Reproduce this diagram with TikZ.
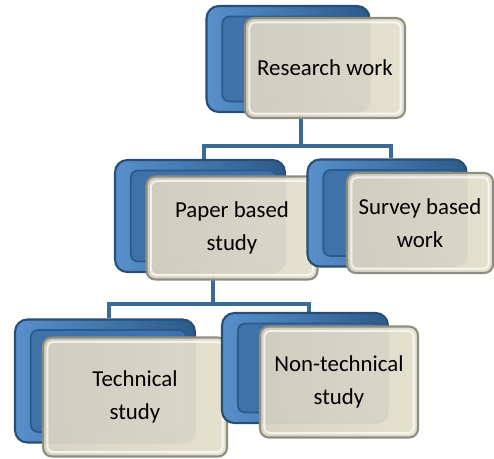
\documentclass[tikz,border=0pt]{standalone}
\usepackage{fontspec}
\setmainfont{Carlito}
\usetikzlibrary{backgrounds}

\definecolor{frameblue}{HTML}{284E75}
\definecolor{deepblue}{HTML}{2C5A8A}
\definecolor{lightblue}{HTML}{5790CC}
\definecolor{faceblue}{HTML}{3E72A9}
\definecolor{linkblue}{HTML}{3B6A99}
\definecolor{cardtan}{HTML}{D6D2C1}
\definecolor{cardlight}{HTML}{E4DFCC}
\definecolor{cardedge}{HTML}{8F8C80}

\tikzset{
	backbox/.style={rounded corners=7pt, draw=frameblue, line width=1.2pt,
		left color=lightblue, right color=deepblue,
		path picture={
			\draw [rounded corners=4pt, draw=deepblue, line width=1pt, fill=faceblue]
				([shift={(9pt,-6pt)}]path picture bounding box.north west) rectangle
				([shift={(-5pt,6pt)}]path picture bounding box.south east);
		}},
	card/.style={rounded corners=5pt, draw=cardedge, line width=1.2pt,
		left color=cardtan, right color=cardlight, fill opacity=0.95,
		text opacity=1, align=center, font=\fontsize{13}{19}\selectfont,
		path picture={
			\draw [rounded corners=3pt, white, opacity=0.7, line width=1.2pt]
				([shift={(2.5pt,-2.5pt)}]path picture bounding box.north west) rectangle
				([shift={(-2.5pt,2.5pt)}]path picture bounding box.south east);
		}},
	link/.style={linkblue, line width=2.4pt}
}

\begin{document}
\begin{tikzpicture}[x=0.02cm, y=-0.02cm]
	\useasboundingbox (0, 0) rectangle (494, 458);

	% first level
	\node [backbox, minimum width=3.26cm, minimum height=2.12cm] (rwb) at (288, 59) {};
	\node [card, minimum width=3.2cm, minimum height=2cm] (rw) at (325, 68) {Research work};

	% second level
	\node [backbox, minimum width=3.4cm, minimum height=2.24cm] (pbb) at (200, 216) {};
	\node [card, minimum width=3.42cm, minimum height=2.06cm] (pb) at (232, 228) {Paper based\\study};
	\node [backbox, minimum width=3.18cm, minimum height=2.14cm] (sbb) at (387, 213) {};
	\node [card, minimum width=2.92cm, minimum height=2cm] (sb) at (420, 223) {Survey based\\work};

	% third level
	\node [backbox, minimum width=3.6cm, minimum height=2.46cm] (tsb) at (105, 381) {};
	\node [card, minimum width=3.68cm, minimum height=2.38cm] (ts) at (135, 397) {Technical\\study};
	\node [backbox, minimum width=3.32cm, minimum height=2.2cm] (ntb) at (305, 368) {};
	\node [card, minimum width=3.16cm, minimum height=2.22cm] (nt) at (339, 382) {Non-technical\\study};

	% connectors behind the boxes
	\begin{scope}[on background layer]
		\foreach \kid in {pbb, sbb}
			\draw [link] ([xshift=2.6mm]rwb.south) -- ++(0, 33) -| ([xshift=0.8mm]\kid.north);
		\foreach \kid in {tsb, ntb}
			\draw [link] ([xshift=2.6mm]pbb.south) -- ++(0, 31) -| ([xshift=0.8mm]\kid.north);
	\end{scope}
\end{tikzpicture}
\end{document}
